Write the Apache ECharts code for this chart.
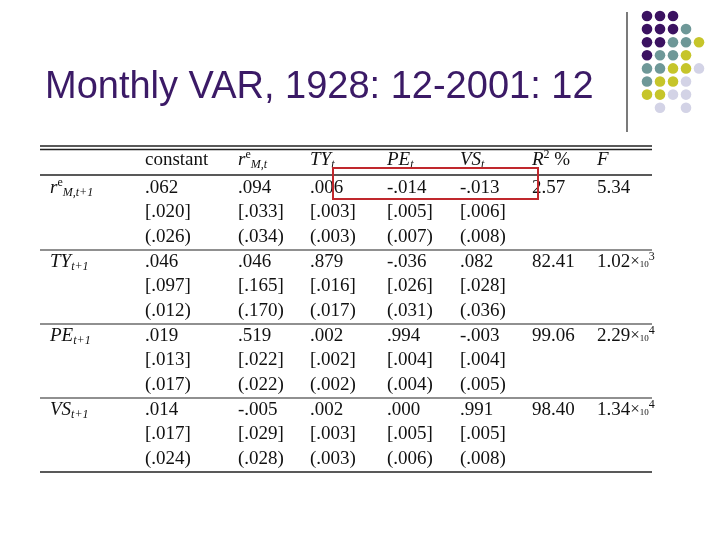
<!DOCTYPE html>
<html><head><meta charset="utf-8">
<script src="https://cdn.jsdelivr.net/npm/echarts@6/dist/echarts.min.js"></script>
<style>body{margin:0;background:#fff}#c{width:720px;height:540px}</style>
</head><body><div id="c"></div>
<script>
var title = 'Monthly VAR, 1928: 12-2001: 12';
var headers = ['constant', '{i|r}{sup|e}{sub|M,t}', '{i|TY}{sub|t}', '{i|PE}{sub|t}', '{i|VS}{sub|t}', '{i|R}{sup|2} %', '{i|F}'];
var rowLabels = ['{i|r}{sup|e}{sub|M,t+1}', '{i|TY}{sub|t+1}', '{i|PE}{sub|t+1}', '{i|VS}{sub|t+1}'];
var coefs = [
  ['.062', '.094', '.006', '-.014', '-.013'],
  ['.046', '.046', '.879', '-.036', '.082'],
  ['.019', '.519', '.002', '.994', '-.003'],
  ['.014', '-.005', '.002', '.000', '.991']
];
var brackets = [
  ['.020', '.033', '.003', '.005', '.006'],
  ['.097', '.165', '.016', '.026', '.028'],
  ['.013', '.022', '.002', '.004', '.004'],
  ['.017', '.029', '.003', '.005', '.005']
];
var parens = [
  ['.026', '.034', '.003', '.007', '.008'],
  ['.012', '.170', '.017', '.031', '.036'],
  ['.017', '.022', '.002', '.004', '.005'],
  ['.024', '.028', '.003', '.006', '.008']
];
var r2 = ['2.57', '82.41', '99.06', '98.40'];
var fStat = ['5.34', '1.02{x|×}{s|10}{sup|3}', '2.29{x|×}{s|10}{sup|4}', '1.34{x|×}{s|10}{sup|4}'];
var dotRows = ['PPP  ', 'PPPT ', 'PPTTY', 'PTTY ', 'TTYYL', 'TYYL ', 'YYLL ', ' L L '];
var dotColors = {P: '#3b1261', T: '#6e9898', Y: '#c6c52a', L: '#d3d3e6'};

var colX = [50, 145, 238, 310, 387, 460, 532, 597];
var headerY = 160, rowY0 = 188, subStep = 24.5, blockStep = 74;
var rich = {
  i: {fontStyle: 'italic', fontFamily: 'Liberation Serif', fontSize: 19},
  sup: {fontSize: 12, verticalAlign: 'top', padding: [0, 0, 10, 0], fontFamily: 'Liberation Serif'},
  sub: {fontSize: 12, fontStyle: 'italic', padding: [10, 0, 0, 0], fontFamily: 'Liberation Serif'},
  x: {fontSize: 17, fontFamily: 'Liberation Serif'},
  s: {fontSize: 9, padding: [6, 0, 0, 0], fontFamily: 'Liberation Serif'}
};
var els = [];
function txt(x, y, s) {
  els.push({type: 'text', x: x, y: y, style: {text: s, fill: '#111', font: '19px "Liberation Serif"', verticalAlign: 'middle', rich: rich}});
}
function line(x1, y1, x2, y2, w) {
  els.push({type: 'line', shape: {x1: x1, y1: y1, x2: x2, y2: y2}, style: {stroke: '#222', lineWidth: w}});
}
els.push({type: 'text', x: 45, y: 88, style: {text: title, fill: '#3b1a66', font: '38px "Liberation Sans"', verticalAlign: 'middle'}});
line(627, 12, 627, 132, 1.2);
dotRows.forEach(function (r, ri) {
  r.split('').forEach(function (c, ci) {
    if (c !== ' ') els.push({type: 'circle', shape: {cx: 647 + ci * 13, cy: 16 + ri * 13.1, r: 5.3}, style: {fill: dotColors[c]}});
  });
});
line(40, 146, 652, 146, 1.5); line(40, 149.5, 652, 149.5, 1.5);
line(40, 175, 652, 175, 1.5);
headers.forEach(function (h, i) { txt(colX[i + 1], headerY, h); });
rowLabels.forEach(function (lab, b) {
  var y = rowY0 + b * blockStep;
  txt(colX[0], y, lab);
  for (var j = 0; j < 5; j++) {
    txt(colX[j + 1], y, coefs[b][j]);
    txt(colX[j + 1], y + subStep, '[' + brackets[b][j] + ']');
    txt(colX[j + 1], y + 2 * subStep, '(' + parens[b][j] + ')');
  }
  txt(colX[6], y, r2[b]);
  txt(colX[7], y, fStat[b]);
  line(40, y + 62, 652, y + 62, b === 3 ? 1.5 : 1.2);
});
els.push({type: 'rect', shape: {x: 333, y: 168, width: 205, height: 31}, style: {fill: 'none', stroke: '#c0282d', lineWidth: 2}});

var chart = echarts.init(document.getElementById('c'));
chart.setOption({backgroundColor: '#fff', graphic: els});
</script></body></html>
